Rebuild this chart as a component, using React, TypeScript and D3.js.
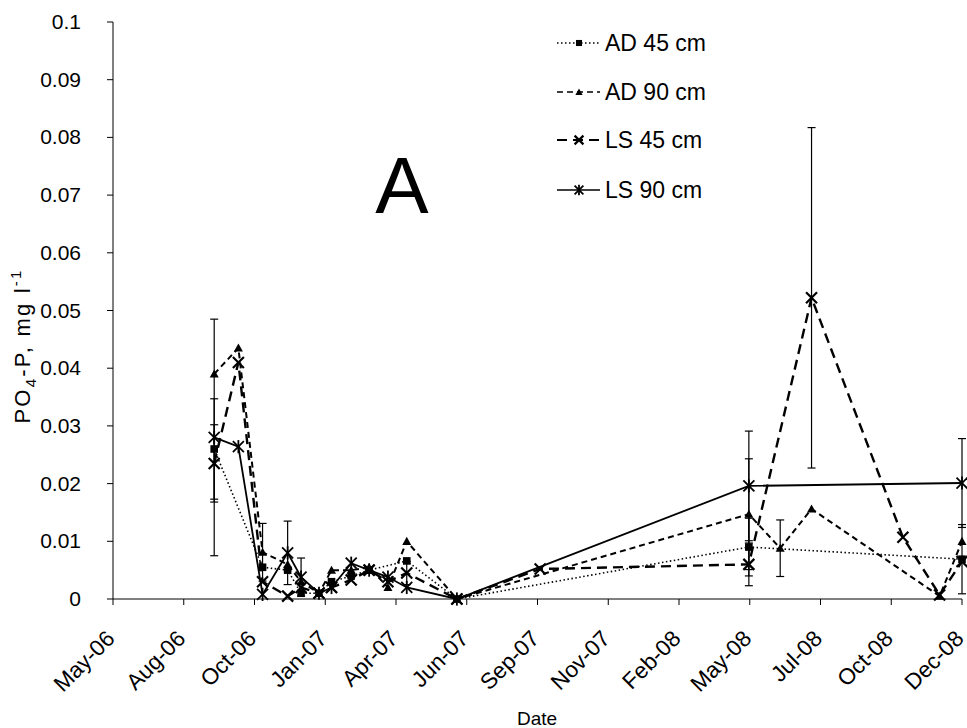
import React from "react";
import * as d3 from "d3";

// ---- data ----
const sampleDates = [
  "2006-09-13", "2006-10-10", "2006-11-06", "2006-12-04", "2006-12-19",
  "2007-01-08", "2007-01-22", "2007-02-13", "2007-03-05", "2007-03-26",
  "2007-04-16", "2007-06-11", "2007-09-12", "2008-05-02", "2008-06-06",
  "2008-07-11", "2008-10-21", "2008-12-01", "2008-12-26",
];
const ad45 = [0.026, null, 0.0055, 0.005, 0.001, 0.001, 0.003, 0.004, 0.005, null, 0.0066, 0, null, 0.009, null, null, null, null, 0.0069];
const ad90 = [0.039, 0.0435, 0.0081, 0.006, 0.003, 0.001, 0.005, 0.005, 0.0055, 0.002, 0.010, 0, null, 0.0147, 0.0088, 0.0156, null, 0.0005, 0.010];
const ls45 = [0.0235, 0.041, 0.003, 0.0005, 0.002, 0.001, 0.002, 0.0033, 0.005, 0.003, 0.0045, 0, 0.0052, 0.006, null, 0.0522, 0.0107, 0.0007, 0.0065];
const ls90 = [0.028, 0.0264, 0.0008, 0.008, 0.0038, 0.001, 0.002, 0.0062, 0.005, 0.0038, 0.002, 0, null, 0.0196, null, null, null, null, 0.0201];

const ad45Err = [0.0087, null, null, null, null, null, null, null, null, null, null, null, null, 0.005, null, null, null, null, 0.006];
const ad90Err = [null, null, 0.005, null, null, null, null, null, null, null, null, null, null, 0.0096, 0.0049, null, null, null, null];
const ls45Err = [0.0067, null, null, null, null, null, null, null, null, null, 0.002, null, null, 0.0037, null, 0.0295, null, null, null];
const ls90Err = [0.0205, null, null, 0.0055, 0.0033, null, null, null, null, null, null, null, null, 0.0095, null, null, null, null, 0.0077];

const seriesNames = ["AD 45 cm", "AD 90 cm", "LS 45 cm", "LS 90 cm"];
const yTicks = [0, 0.01, 0.02, 0.03, 0.04, 0.05, 0.06, 0.07, 0.08, 0.09, 0.1];
const yTickLabels = ["0", "0.01", "0.02", "0.03", "0.04", "0.05", "0.06", "0.07", "0.08", "0.09", "0.1"];
const xTickLabels = ["May-06", "Aug-06", "Oct-06", "Jan-07", "Apr-07", "Jun-07", "Sep-07", "Nov-07", "Feb-08", "May-08", "Jul-08", "Oct-08", "Dec-08"];
const axisStart = "2006-05-23";
const tickStepDays = 79;

const FONT = "'Liberation Sans', Arial, sans-serif";

type MarkerKind = "square" | "triangle" | "x" | "star";

function Marker({ kind, cx, cy, s = 1 }: { kind: MarkerKind; cx: number; cy: number; s?: number }) {
  if (kind === "square") {
    const h = 3.8 * s;
    return <rect x={cx - h} y={cy - h} width={2 * h} height={2 * h} fill="#000" />;
  }
  if (kind === "triangle") {
    const h = 4.5 * s;
    return <path d={`M${cx},${cy - h}L${cx + h},${cy + h * 0.8}L${cx - h},${cy + h * 0.8}Z`} fill="#000" />;
  }
  const r = 5.5 * s;
  return (
    <g stroke="#000" strokeWidth={kind === "x" ? 2.2 : 1.8} fill="none">
      <line x1={cx - r} y1={cy - r} x2={cx + r} y2={cy + r} />
      <line x1={cx - r} y1={cy + r} x2={cx + r} y2={cy - r} />
      {kind === "star" && <line x1={cx} y1={cy - r * 1.2} x2={cx} y2={cy + r * 1.2} />}
    </g>
  );
}

export default function App() {
  const W = 967, H = 728;
  const xL = 113, xR = 962, yB = 599, yT = 22;
  const parse = d3.timeParse("%Y-%m-%d");
  const start = parse(axisStart) as Date;
  const tickDates = xTickLabels.map((_, i) => d3.timeDay.offset(start, i * tickStepDays));
  const x = d3.scaleTime().domain([start, tickDates[tickDates.length - 1]]).range([xL, xR]);
  const y = d3.scaleLinear().domain([0, 0.1]).range([yB, yT]);
  const dates = sampleDates.map((d) => parse(d) as Date);

  const series = [
    { name: seriesNames[0], values: ad45, errs: ad45Err, dash: "1.5,2.5", width: 1.6, marker: "square" as MarkerKind },
    { name: seriesNames[1], values: ad90, errs: ad90Err, dash: "6,4", width: 2, marker: "triangle" as MarkerKind },
    { name: seriesNames[2], values: ls45, errs: ls45Err, dash: "10,6", width: 2.4, marker: "x" as MarkerKind },
    { name: seriesNames[3], values: ls90, errs: ls90Err, dash: "", width: 1.8, marker: "star" as MarkerKind },
  ];

  const line = d3
    .line<{ d: Date; v: number }>()
    .x((p) => x(p.d))
    .y((p) => y(p.v));

  const legendY = [43, 92, 140, 190];

  return (
    <div style={{ position: "absolute", left: 0, top: 0 }}>
      <svg width={W} height={H} style={{ display: "block", background: "#fff" }} fontFamily={FONT}>
        <rect width={W} height={H} fill="#fff" />
        {/* error bars */}
        {series.map((s, si) => (
          <g key={"e" + si} stroke="#000" strokeWidth={1.2}>
            {s.errs.map((e, i) => {
              const v = s.values[i];
              if (e == null || v == null) return null;
              const cx = x(dates[i]);
              const lo = y(Math.max(0, v - e));
              const hi = y(v + e);
              return (
                <g key={i}>
                  <line x1={cx} x2={cx} y1={lo} y2={hi} />
                  <line x1={cx - 4} x2={cx + 4} y1={lo} y2={lo} />
                  <line x1={cx - 4} x2={cx + 4} y1={hi} y2={hi} />
                </g>
              );
            })}
          </g>
        ))}
        {/* lines */}
        {series.map((s, si) => {
          const pts = s.values
            .map((v, i) => ({ d: dates[i], v }))
            .filter((p) => p.v != null) as { d: Date; v: number }[];
          return (
            <path key={"l" + si} d={line(pts) || ""} fill="none" stroke="#000" strokeWidth={s.width} strokeDasharray={s.dash || undefined} />
          );
        })}
        {/* markers */}
        {series.map((s, si) => (
          <g key={"m" + si}>
            {s.values.map((v, i) =>
              v == null ? null : <Marker key={i} kind={s.marker} cx={x(dates[i])} cy={y(v)} />
            )}
          </g>
        ))}
        {/* axes */}
        <line x1={xL} x2={xL} y1={yT} y2={yB} stroke="#000" strokeWidth={1} />
        <line x1={xL} x2={xR} y1={yB} y2={yB} stroke="#000" strokeWidth={1} />
        {yTicks.map((t, i) => (
          <g key={"yt" + i}>
            <line x1={xL - 6} x2={xL} y1={y(t)} y2={y(t)} stroke="#000" />
            <text x={81} y={y(t) + 7} textAnchor="end" fontSize={21} fill="#000">
              {yTickLabels[i]}
            </text>
          </g>
        ))}
        {tickDates.map((d, i) => (
          <g key={"xt" + i}>
            <line x1={x(d)} x2={x(d)} y1={yB} y2={yB + 6} stroke="#000" />
            <text
              transform={`translate(${x(d) + 3},${yB + 41}) rotate(-45)`}
              textAnchor="end"
              fontSize={22.5}
              fill="#000"
            >
              {xTickLabels[i]}
            </text>
          </g>
        ))}
        <text x={537} y={725} textAnchor="middle" fontSize={19} fill="#000">
          Date
        </text>
        <text transform={`translate(30,346) rotate(-90)`} textAnchor="middle" fontSize={22} letterSpacing={2.2} fill="#000">
          PO<tspan dy={6} fontSize={15}>4</tspan>
          <tspan dy={-6}>-P, mg l</tspan>
          <tspan dy={-9} fontSize={15}>-1</tspan>
        </text>
        <text x={402} y={213} textAnchor="middle" fontSize={80} fill="#000">
          A
        </text>
        {/* legend */}
        {series.map((s, i) => (
          <g key={"lg" + i}>
            <line x1={557} x2={600} y1={legendY[i]} y2={legendY[i]} stroke="#000" strokeWidth={s.width * 0.8} strokeDasharray={s.dash || undefined} />
            <Marker kind={s.marker} cx={579} cy={legendY[i]} s={0.8} />
            <text x={605} y={legendY[i] + 8} fontSize={23} fill="#000">
              {s.name}
            </text>
          </g>
        ))}
      </svg>
    </div>
  );
}
